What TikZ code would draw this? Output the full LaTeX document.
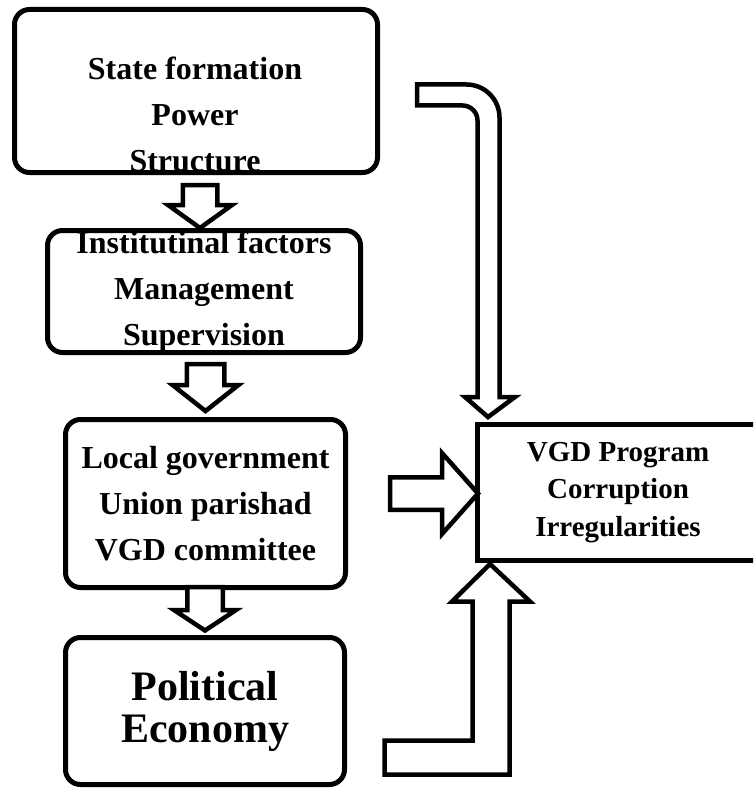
\documentclass[tikz,border=0pt]{standalone}
\usepackage{fontspec}
\setmainfont{Liberation Serif}
\usetikzlibrary{positioning, calc}

\begin{document}
\begin{tikzpicture}[
    x=1pt, y=1pt,
    % ── Box styles ──
    box/.style={rectangle, draw=black, line width=5pt, rounded corners=15pt,
                align=center, inner sep=0pt, font=\fontsize{32}{46}\selectfont\bfseries},
    flatbox/.style={rectangle, draw=black, line width=5pt, inner sep=0pt},
    txt/.style={align=center, inner sep=0pt, font=\fontsize{32}{46}\selectfont\bfseries},
    bigtxt/.style={font=\fontsize{42}{42}\selectfont\bfseries},
    smalltxt/.style={align=center, inner sep=0pt, font=\fontsize{29}{37.5}\selectfont\bfseries},
    blk/.style={draw=black, fill=white, line width=4.5pt},
    % ── Block-arrow pic (tip at origin, shaft upwards) ──
    shaftlen/.store in=\shaftlen, shaftlen=45,
    headlen/.store in=\headlen, headlen=25,
    shafthw/.store in=\shafthw, shafthw=17.5,
    headhw/.store in=\headhw, headhw=33,
    blockdown/.pic={\draw[blk] (0,0) -- (\headhw,\headlen) -- (\shafthw,\headlen)
        -- (\shafthw,\shaftlen) -- (-\shafthw,\shaftlen) -- (-\shafthw,\headlen)
        -- (-\headhw,\headlen) -- cycle;}
]
\useasboundingbox (0,0) rectangle (753,-789);
\clip (0,0) rectangle (753,-789);

% ═══ Left column ═══
\node[box, minimum width=363, minimum height=163] (state) at (196,-91) {};
\node[txt] (statetxt) at (195,-114) {State formation\\Power\\Structure};
\node[box, minimum width=313, minimum height=122] (inst) at (204,-291.5)
  {Institutinal factors\\Management\\Supervision};
\node[box, minimum width=280, minimum height=168] (local) at (205.5,-503.5)
  {Local government\\Union parishad\\VGD committee};
\node[box, bigtxt, minimum width=279, minimum height=147] (polit) at (205,-711)
  {Political\\Economy};

% ═══ Right box (runs off the page) ═══
\node[flatbox, minimum width=300, minimum height=136] (vgd) at (627.5,-492.5) {};
\node[smalltxt] (vgdtxt) at (618,-492.5) {VGD Program\\Corruption\\Irregularities};

% ═══ Straight block arrows ═══
\pic[shaftlen=43, headlen=23, shafthw=17.25, headhw=32] at ([xshift=-4pt]inst.north) {blockdown};
\pic[shaftlen=47, headlen=26, shafthw=18.75, headhw=33] at ([yshift=6pt]local.north) {blockdown};
\pic[shaftlen=43.5, headlen=20.5, shafthw=17.75, headhw=31] at ([yshift=4.5pt]polit.north) {blockdown};
\pic[rotate=90, shaftlen=88, headlen=36, shafthw=16.25, headhw=40.5] at ([xshift=3pt,yshift=-1pt]vgd.west) {blockdown};

% ═══ Bent block arrows ═══
\coordinate (topin) at (417,-84.5);
\coordinate (botin) at (384.5,-740.5);
\draw[blk] (topin) -- (466.5,-84.5) arc[start angle=90, end angle=0, radius=33]
  -- (499.5,-397) -- (515,-397) -- ([xshift=13pt,yshift=5pt]vgd.north west) -- (465,-397)
  -- (477.5,-397) -- (477.5,-120.5) arc[start angle=0, end angle=90, radius=15]
  -- (417,-105.5) -- cycle;
\draw[blk] (botin) -- (472.5,-740.5) -- (472.5,-601.5) -- (452,-601.5)
  -- ([xshift=15pt,yshift=-1pt]vgd.south west) -- (530,-601.5) -- (509.5,-601.5)
  -- (509.5,-774.5) -- (384.5,-774.5) -- cycle;

\end{tikzpicture}
\end{document}
